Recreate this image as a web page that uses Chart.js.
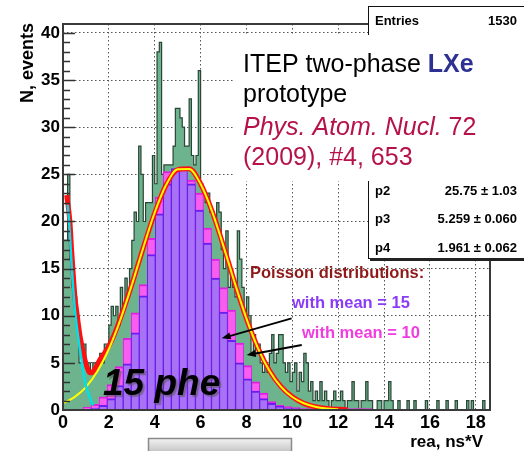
<!DOCTYPE html>
<html>
<head>
<meta charset="utf-8">
<script src="https://cdn.jsdelivr.net/npm/chart.js@4.4.1/dist/chart.umd.min.js"></script>
<style>
html, body { margin: 0; padding: 0; background: #fff; }
#wrap { width: 524px; height: 451px; position: relative; }
</style>
</head>
<body>
<div id="wrap"><canvas id="chart_rea" width="524" height="451"></canvas></div>
<script>
// measured spectrum, counts per 0.1 ns*V bin starting at 0
var greenBinWidth = 0.1;
var greenCounts = [
  18, 18, 25, 16, 13, 12, 10, 5, 5, 7,
  5, 5, 4, 5, 5, 5, 6, 5, 7, 7,
  9, 11, 10, 11, 9, 13, 11, 14, 12, 15,
  18, 21, 20, 28, 25, 20, 22, 22, 22, 27,
  24, 38, 39, 25, 26, 26, 26, 26, 28, 32,
  32, 31, 30, 28, 28, 33, 27, 26, 27, 36,
  24, 23, 22, 23, 21, 21, 20, 22, 21, 17,
  15, 19, 13, 15, 13, 12, 19, 16, 13, 10,
  12, 10, 6, 8, 6, 7, 5, 4, 5, 4,
  6, 8, 5, 6, 8, 8, 5, 4, 5, 3,
  4, 5, 2, 4, 3, 6, 5, 2, 3, 1,
  2, 1, 3, 1, 2, 1, 0, 1, 2, 1,
  1, 2, 1, 0, 1, 1, 3, 1, 1, 0,
  1, 1, 3, 1, 1, 0, 0, 1, 1, 0,
  1, 1, 3, 1, 0, 0, 1, 0, 0, 0,
  1, 0, 0, 1, 0, 0, 0, 0, 1, 0,
  0, 0, 0, 1, 0, 0, 0, 1, 0, 0,
  0, 1, 0, 0, 0, 0, 1, 0, 1, 0,
  0, 0, 0, 1, 0, 0
];

// Poisson histograms, one bin per photoelectron number
var pheGain = 0.35;
var pheNumbers = [2, 3, 4, 5, 6, 7, 8, 9, 10, 11, 12, 13, 14, 15, 16, 17, 18, 19, 20,
  21, 22, 23, 24, 25, 26, 27, 28, 29, 30, 31, 32, 33, 34, 35, 36, 37, 38];
var poissonMean15 = [0, 0.1, 0.2, 0.5, 1.2, 2.6, 4.9, 8.2, 12.1, 16.5, 20.8, 24.0, 25.6, 25.6, 24.0, 21.2, 17.7, 14.0, 10.4,
  7.4, 5.0, 3.3, 2.0, 1.2, 0.7, 0.4, 0.2, 0.15, 0.1, 0.1, 0.1, 0.1, 0, 0, 0, 0, 0];
var poissonMean10 = [0.1, 0.3, 0.6, 1.4, 2.7, 4.6, 7.6, 10.3, 13.3, 18.2, 22.6, 25.3, 25.4, 25.2, 24.4, 23.0, 19.3, 16.0, 13.0,
  10.6, 7.1, 4.7, 3.0, 1.8, 0.9, 0.5, 0.35, 0.25, 0.15, 0.15, 0.15, 0.15, 0.15, 0.15, 0.15, 0.15, 0.15];

// fit curves
var expX = [0.2, 0.25, 0.3, 0.38, 0.45, 0.52, 0.6, 0.74, 0.85, 0.96, 1.07, 1.18, 1.25, 1.32];
var expY = [21.8, 20.6, 18.6, 15.2, 12.7, 10.6, 8.9, 6.4, 4.6, 3.0, 2.0, 1.25, 0.8, 0.5];
var gausX = [0.05, 0.5, 1.0, 1.5, 2.0, 2.5, 3.0, 3.5, 4.0, 4.5, 5.0, 5.5, 6.0, 6.5, 7.0, 7.5, 8.0, 8.5, 9.0, 9.5, 10.0, 10.5, 11.0, 11.5, 12.0];
var gausY = [0.75, 1.36, 2.43, 4.1, 6.47, 9.57, 13.26, 17.22, 20.95, 23.89, 25.53, 25.56, 23.97, 21.08, 17.36, 13.4, 9.7, 6.57, 4.17, 2.48, 1.38, 0.72, 0.35, 0.16, 0.07];
var fitX = [0.16, 0.3, 0.38, 0.45, 0.52, 0.6, 0.74, 0.85, 0.96, 1.07, 1.15, 1.25, 1.4, 1.6, 1.8, 2.0, 2.2, 2.5, 3.0, 3.5, 4.0, 4.5, 5.0, 5.5,
  6.0, 6.5, 7.0, 7.5, 8.0, 8.5, 9.0, 9.5, 10.0, 10.5, 11.0, 11.5, 12.0, 12.4];
var fitY = [22.8, 20.0, 16.8, 14.3, 12.0, 10.4, 7.9, 6.5, 5.3, 4.4, 4.0, 3.95, 4.4, 5.3, 6.0, 6.8, 7.8, 9.7, 13.3, 17.2, 20.9, 23.9, 25.5, 25.6,
  24.0, 21.1, 17.4, 13.4, 9.7, 6.6, 4.2, 2.5, 1.4, 0.7, 0.35, 0.16, 0.07, 0.03];

var xTickLabels = [0, 2, 4, 6, 8, 10, 12, 14, 16, 18];
var yTickLabels = [0, 5, 10, 15, 20, 25, 30, 35, 40];
var statRows = [['p2', '25.75 \u00b1 1.03'], ['p3', '5.259 \u00b1 0.060'], ['p4', '1.961 \u00b1 0.062']];
var entries = 1530;

var FONT = "'Liberation Sans', Arial, sans-serif";
Chart.defaults.font.family = FONT;

var greenPoints = greenCounts.map(function (c, i) { return { x: +(i * greenBinWidth).toFixed(2), y: c }; });
greenPoints.push({ x: +(greenCounts.length * greenBinWidth).toFixed(2), y: 0 });
function zipXY(xs, ys) { return xs.map(function (v, i) { return { x: v, y: ys[i] }; }); }
function pheBins(vals) { return pheNumbers.map(function (n, i) { return { x: n * pheGain, y: vals[i] }; }); }

var curveBase = { type: 'line', xAxisID: 'x', pointRadius: 0, fill: false, cubicInterpolationMode: 'monotone' };

function arrow(ctx, x0, y0, x1, y1) {
  var ang = Math.atan2(y1 - y0, x1 - x0), L = 9, W = 3.5;
  ctx.beginPath(); ctx.moveTo(x0, y0); ctx.lineTo(x1 - L * 0.7 * Math.cos(ang), y1 - L * 0.7 * Math.sin(ang)); ctx.stroke();
  ctx.beginPath();
  ctx.moveTo(x1, y1);
  ctx.lineTo(x1 - L * Math.cos(ang) + W * Math.sin(ang), y1 - L * Math.sin(ang) - W * Math.cos(ang));
  ctx.lineTo(x1 - L * Math.cos(ang) - W * Math.sin(ang), y1 - L * Math.sin(ang) + W * Math.cos(ang));
  ctx.closePath(); ctx.fill();
}

var overlayPlugin = {
  id: 'overlay',
  beforeDraw: function (chart) {
    var ctx = chart.ctx;
    ctx.save(); ctx.fillStyle = '#fff'; ctx.fillRect(0, 0, chart.width, chart.height); ctx.restore();
  },
  afterDraw: function (chart) {
    var ctx = chart.ctx, a = chart.chartArea, xs = chart.scales.x, ys = chart.scales.y;
    ctx.save();
    // y ticks inside the frame
    ctx.strokeStyle = '#333'; ctx.lineWidth = 1.5;
    ys.ticks.forEach(function (t) {
      if (!Number.isInteger(t.value) || t.value === 0) return;
      var py = Math.round(ys.getPixelForValue(t.value)) + 0.5;
      var len = t.value % 5 === 0 ? 12 : 7;
      ctx.beginPath(); ctx.moveTo(a.left, py); ctx.lineTo(a.left + len, py); ctx.stroke();
    });
    // frame
    ctx.strokeStyle = '#3a3a3a'; ctx.lineWidth = 2;
    ctx.strokeRect(a.left, a.top, a.right - a.left, a.bottom - a.top);

    // stat box
    ctx.fillStyle = '#fff'; ctx.fillRect(368, 6, 170, 252);
    ctx.strokeStyle = '#111'; ctx.lineWidth = 1;
    ctx.strokeRect(368.5, 6.5, 170, 252);
    ctx.fillStyle = '#222'; ctx.fillRect(370, 258, 160, 3);
    ctx.fillStyle = '#000'; ctx.font = 'bold 13px ' + FONT; ctx.textBaseline = 'alphabetic';
    ctx.textAlign = 'left'; ctx.fillText('Entries', 375, 25);
    ctx.textAlign = 'right'; ctx.fillText(String(entries), 517, 25);
    statRows.forEach(function (r, i) {
      var by = 195 + i * 28.3;
      ctx.textAlign = 'left'; ctx.fillText(r[0], 375, by);
      ctx.textAlign = 'right'; ctx.fillText(r[1], 517, by);
    });

    // slide text panel
    ctx.fillStyle = '#fff'; ctx.fillRect(234, 35, 290, 146);
    ctx.textAlign = 'left';
    ctx.font = '25px ' + FONT; ctx.fillStyle = '#000';
    var t1 = 'ITEP two-phase ';
    ctx.fillText(t1, 243, 72);
    var w1 = ctx.measureText(t1).width;
    ctx.font = 'bold 25px ' + FONT; ctx.fillStyle = '#2e3192';
    ctx.fillText('LXe', 243 + w1, 72);
    ctx.font = '25px ' + FONT; ctx.fillStyle = '#000';
    ctx.fillText('prototype', 243, 102);
    ctx.fillStyle = '#b5124b';
    ctx.font = 'italic 25px ' + FONT;
    var t3 = 'Phys. Atom. Nucl.';
    ctx.fillText(t3, 243, 135);
    var w3 = ctx.measureText(t3).width;
    ctx.font = '25px ' + FONT;
    ctx.fillText(' 72', 243 + w3, 135);
    ctx.fillText('(2009), #4, 653', 243, 165);

    // "15 phe"
    ctx.save();
    ctx.font = 'italic bold 37px ' + FONT; ctx.fillStyle = '#000';
    ctx.shadowColor = 'rgba(80,80,80,0.55)'; ctx.shadowOffsetX = 2; ctx.shadowOffsetY = 2; ctx.shadowBlur = 1;
    ctx.fillText('15 phe', 103, 395);
    ctx.restore();

    // Poisson labels
    ctx.font = 'bold 16.5px ' + FONT;
    ctx.fillStyle = '#8e1a1a'; ctx.fillText('Poisson distributions:', 250, 278);
    ctx.fillStyle = '#8a3cf6'; ctx.fillText('with mean = 15', 292, 308);
    ctx.fillStyle = '#f03ce0'; ctx.fillText('with mean = 10', 302, 338);

    // arrows pointing at the two histograms
    ctx.strokeStyle = '#000'; ctx.fillStyle = '#000'; ctx.lineWidth = 2;
    arrow(ctx, xs.getPixelForValue(9.97), ys.getPixelForValue(9.72), xs.getPixelForValue(6.92), ys.getPixelForValue(7.6));
    arrow(ctx, xs.getPixelForValue(10.41), ys.getPixelForValue(6.89), xs.getPixelForValue(8.01), ys.getPixelForValue(5.83));

    // axis titles
    ctx.fillStyle = '#000';
    ctx.font = 'bold 17px ' + FONT; ctx.textAlign = 'right';
    ctx.fillText('rea, ns*V', 483, 447);
    ctx.save();
    ctx.translate(28, a.top - 1); ctx.rotate(-Math.PI / 2);
    ctx.font = 'bold 18px ' + FONT; ctx.textAlign = 'right'; ctx.textBaseline = 'middle';
    ctx.fillText('N, events', 0, 0);
    ctx.restore();

    // grey slider at the bottom
    var g = ctx.createLinearGradient(0, 438, 0, 451);
    g.addColorStop(0, '#f4f4f4'); g.addColorStop(1, '#c8c8c8');
    ctx.fillStyle = g; ctx.fillRect(148, 438, 143, 14);
    ctx.strokeStyle = '#8a8a8a'; ctx.lineWidth = 1.5; ctx.strokeRect(148.5, 438.5, 143, 14);
    ctx.restore();
  }
};

var chart_rea = new Chart(document.getElementById('chart_rea'), {
  type: 'bar',
  data: {
    datasets: [
      Object.assign({}, curveBase, { label: 'expo', data: zipXY(expX, expY), borderColor: '#00e0ea', borderWidth: 2.5, order: 0 }),
      Object.assign({}, curveBase, { label: 'gaus', data: zipXY(gausX, gausY), borderColor: '#ffff00', borderWidth: 2, order: 1 }),
      Object.assign({}, curveBase, { label: 'fit', data: zipXY(fitX, fitY), borderColor: '#ff1010', borderWidth: 5, order: 2 }),
      {
        label: 'Poisson mean 15', xAxisID: 'xp', data: pheBins(poissonMean15),
        backgroundColor: '#a772f4', borderColor: '#6c1cf0',
        borderWidth: { top: 2, left: 1, right: 1, bottom: 0 }, borderSkipped: 'bottom',
        barPercentage: 1, categoryPercentage: 1, grouped: false, order: 3
      },
      {
        label: 'Poisson mean 10', xAxisID: 'xp', data: pheBins(poissonMean10),
        backgroundColor: '#f75ef0', borderColor: '#e020e0',
        borderWidth: { top: 2, left: 1, right: 1, bottom: 0 }, borderSkipped: 'bottom',
        barPercentage: 1, categoryPercentage: 1, grouped: false, order: 4
      },
      {
        type: 'line', label: 'data', xAxisID: 'x', data: greenPoints, stepped: 'before',
        pointRadius: 0, fill: 'origin', backgroundColor: '#6db38d', borderColor: '#2b4536', borderWidth: 1.2, order: 5
      }
    ]
  },
  options: {
    responsive: false,
    animation: false,
    events: [],
    layout: { padding: { top: 24, right: 34, left: 0, bottom: 0 } },
    plugins: { legend: { display: false }, tooltip: { enabled: false } },
    scales: {
      x: {
        type: 'linear', min: 0, max: 18.62, offset: false,
        grid: {
          offset: false, drawTicks: false, lineWidth: 1,
          color: function (c) { var v = c.tick && c.tick.value; return (v > 0 && xTickLabels.indexOf(v) >= 0) ? '#555' : 'transparent'; }
        },
        border: { display: false, dash: [1.5, 2.5] },
        ticks: {
          stepSize: 2, includeBounds: false, autoSkip: false, maxRotation: 0, padding: 2, color: '#000',
          font: { size: 18, weight: 'bold' },
          callback: function (v) { return xTickLabels.indexOf(v) >= 0 ? String(v) : ''; }
        },
        afterFit: function (s) { s.height = 41; }
      },
      xp: {
        type: 'linear', min: 0, max: 18.62, offset: false, display: false,
        grid: { offset: false }, ticks: { stepSize: 2, includeBounds: false }
      },
      y: {
        min: 0, max: 40.95,
        grid: {
          drawTicks: false, lineWidth: 1,
          color: function (c) { var v = c.tick && c.tick.value; return (v > 0 && yTickLabels.indexOf(v) >= 0) ? '#555' : 'transparent'; }
        },
        border: { display: false, dash: [1.5, 2.5] },
        ticks: {
          stepSize: 1, includeBounds: false, autoSkip: false, padding: 3, color: '#000',
          font: { size: 17, weight: 'bold' },
          callback: function (v) { return yTickLabels.indexOf(v) >= 0 ? String(v) : ''; }
        },
        afterFit: function (s) { s.width = 63; }
      }
    }
  },
  plugins: [overlayPlugin]
});
</script>
</body>
</html>
